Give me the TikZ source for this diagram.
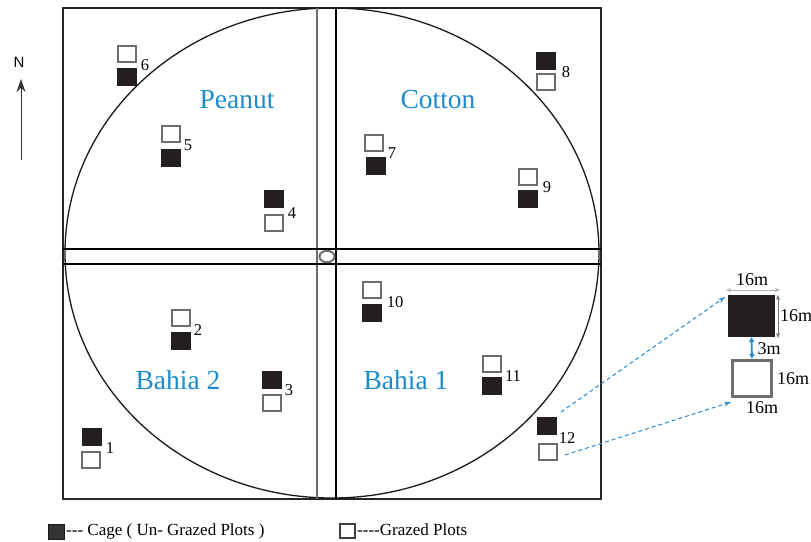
\documentclass[tikz,border=0pt]{standalone}
\usepackage{fontspec}
\setmainfont{Liberation Serif}
\newfontfamily\labelsans{Liberation Sans}
\usetikzlibrary{arrows.meta,shapes.geometric}
\definecolor{plotblack}{HTML}{231F20}
\definecolor{plotgray}{HTML}{6D6E71}
\definecolor{cropblue}{HTML}{1B8BCB}
\definecolor{arrowblue}{HTML}{2A8AD2}
\tikzset{
  cage/.style={draw=plotblack, fill=plotblack, line width=0.8pt, minimum width=19pt, minimum height=17pt, inner sep=0pt},
  grazed/.style={draw=plotgray, fill=white, line width=2pt, minimum width=18pt, minimum height=16pt, inner sep=0pt},
  plotnum/.style={font=\fontsize{16.5}{16.5}\selectfont, inner sep=0pt},
  crop/.style={font=\fontsize{27.5}{27.5}\selectfont, text=cropblue, inner sep=0pt},
  dimtext/.style={font=\fontsize{18}{18}\selectfont, inner sep=0pt},
  legendtext/.style={font=\fontsize{17}{17}\selectfont, inner sep=0pt, anchor=base west},
  road/.style={line width=1.2pt},
  link/.style={arrowblue, line width=1pt, dash pattern=on 4pt off 3pt, -{Stealth[length=7pt,width=5pt]}},
}
\begin{document}
\begin{tikzpicture}[x=1pt, y=-1pt]
\useasboundingbox (0,0) rectangle (811,541);

% field boundary and central pivot circle
\draw[line width=1.4pt, black!85] (63,8) rectangle (601,499);
\draw[line width=1.3pt, black!90] (332,253) ellipse [x radius=267, y radius=245];

% access roads crossing the field
\draw[road, plotgray] (317,8) -- (317,499);
\draw[road, black] (336,8) -- (336,499);
\draw[road, black] (63,249) -- (601,249);
\draw[road, black] (63,264) -- (601,264);
\node[draw=plotgray, line width=2pt, ellipse, minimum width=15pt, minimum height=11.5pt, inner sep=0pt, fill=white] (pivot) at (327,256.5) {};

% crop names
\node[crop] (peanut) at (237,100) {Peanut};
\node[crop] (cotton) at (438,100) {Cotton};
\node[crop] (bahia2) at (178,380) {Bahia 2};
\node[crop] (bahia1) at (406,380) {Bahia 1};

% paired plots: caged (un-grazed) and grazed
\node[cage]   (c1)  at (92,437) {};
\node[grazed] (g1)  at (91,460) {};
\node[plotnum] at (110,448) {1};

\node[grazed] (g2)  at (180.5,318) {};
\node[cage]   (c2)  at (180.5,341) {};
\node[plotnum] at (198,330) {2};

\node[cage]   (c3)  at (271.5,379.5) {};
\node[grazed] (g3)  at (271.5,402.5) {};
\node[plotnum] at (289,390) {3};

\node[cage]   (c4)  at (273.5,199) {};
\node[grazed] (g4)  at (273.5,222.5) {};
\node[plotnum] at (292,213) {4};

\node[grazed] (g5)  at (170.5,134) {};
\node[cage]   (c5)  at (171,157.5) {};
\node[plotnum] at (188,145) {5};

\node[grazed] (g6)  at (127,54) {};
\node[cage]   (c6)  at (126.5,77) {};
\node[plotnum] at (145,65) {6};

\node[grazed] (g7)  at (373.5,142.5) {};
\node[cage]   (c7)  at (375.5,165.5) {};
\node[plotnum] at (392,153) {7};

\node[cage]   (c8)  at (545.5,60.5) {};
\node[grazed] (g8)  at (545.5,82) {};
\node[plotnum] at (566,72) {8};

\node[grazed] (g9)  at (528,177) {};
\node[cage]   (c9)  at (528,199) {};
\node[plotnum] at (547,187) {9};

\node[grazed] (g10) at (371.5,290) {};
\node[cage]   (c10) at (371.5,313) {};
\node[plotnum] at (395,302) {10};

\node[grazed] (g11) at (492,364) {};
\node[cage]   (c11) at (492,386) {};
\node[plotnum] at (513,376) {11};

\node[cage]   (c12) at (547,426) {};
\node[grazed] (g12) at (547.5,452) {};
\node[plotnum] at (567,438) {12};

% enlarged plot pair with dimensions
\node[draw=plotblack, fill=plotblack, line width=0.8pt, minimum width=46pt, minimum height=41pt, inner sep=0pt] (bigcage) at (751.5,316) {};
\node[draw=plotgray, fill=white, line width=3pt, minimum width=39pt, minimum height=36pt, inner sep=0pt] (biggrazed) at (752,378.5) {};

\coordinate (topL) at (726,290);
\coordinate (topR) at (780,290);
\coordinate (sideT) at (778,295);
\coordinate (sideB) at (778,338);
\draw[black!30, line width=0.7pt, {Stealth[length=5pt,width=4pt]}-{Stealth[length=5pt,width=4pt]}] (topL) -- (topR);
\draw[black!55, line width=0.7pt, {Stealth[length=5pt,width=4pt]}-{Stealth[length=5pt,width=4pt]}] (sideT) -- (sideB);
\draw[arrowblue, line width=1.8pt, {Latex[length=5pt,width=6pt]}-{Latex[length=5pt,width=6pt]}] (bigcage.south) -- (biggrazed.north);

\node[dimtext] at (752,280) {16m};
\node[dimtext] at (796,316) {16m};
\node[dimtext] at (769,349) {3m};
\node[dimtext] at (793,379) {16m};
\node[dimtext] at (762,408) {16m};

% links from plot 12 to the enlarged pair
\coordinate (fromC) at (561,412);
\coordinate (fromG) at (565,455);
\coordinate (toC) at (725,297);
\coordinate (toG) at (731,402);
\draw[link] (fromC) -- (toC);
\draw[link] (fromG) -- (toG);

% north arrow
\node[font=\labelsans\fontsize{15}{15}\selectfont, inner sep=0pt] (north) at (19,62) {N};
\coordinate (nbase) at (21,160);
\draw[black!80, line width=1pt, -{Stealth[length=13pt,width=9pt]}] (nbase) -- (21,79);

% legend
\node[draw=black!90, fill=black!80, line width=1pt, minimum width=16pt, minimum height=15pt, inner sep=0pt] (keycage) at (56,531.5) {};
\node[legendtext] at (66,535) {{-}{-}{-} Cage ( Un- Grazed Plots )};
\node[draw=black!75, fill=white, line width=2pt, minimum width=15pt, minimum height=14pt, inner sep=0pt] (keygrazed) at (347,531) {};
\node[legendtext] at (357,535) {{-}{-}{-}{-}Grazed Plots};
\end{tikzpicture}
\end{document}
